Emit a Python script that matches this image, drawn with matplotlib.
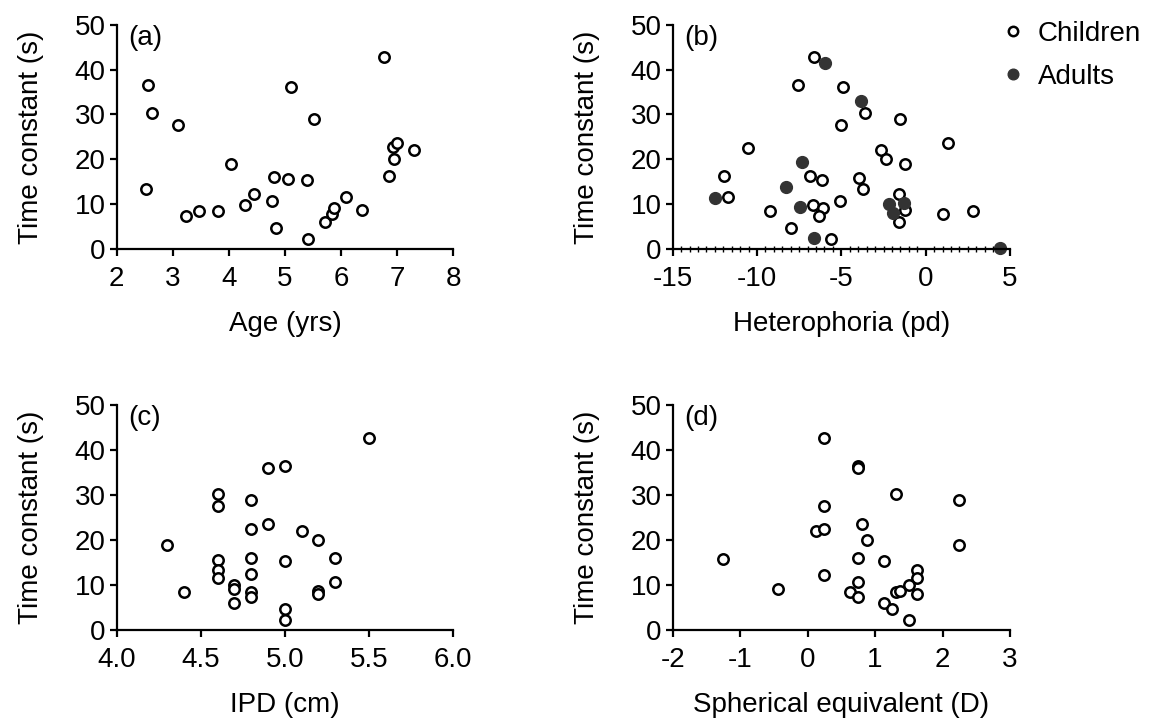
import numpy as np
import matplotlib
matplotlib.use('Agg')
import matplotlib.pyplot as plt
from matplotlib.ticker import MultipleLocator

plt.rcParams['font.family'] = ['Liberation Sans', 'DejaVu Sans']
plt.rcParams['axes.unicode_minus'] = False

# (a) age vs time constant
age = [2.55, 2.63, 2.53, 3.10, 3.23, 3.46, 3.80, 4.04, 4.29, 4.45, 4.77, 4.80, 4.84, 5.05, 5.10,
       5.39, 5.41, 5.52, 5.72, 5.83, 5.87, 6.09, 6.38, 6.77, 6.86, 6.92, 6.99, 6.94, 7.30]
tc_age = [36.5, 30.3, 13.3, 27.6, 7.4, 8.4, 8.4, 18.9, 9.9, 12.3, 10.6, 16.1, 4.6, 15.7, 36.2,
          15.3, 2.2, 28.9, 6.0, 7.9, 9.2, 11.7, 8.7, 42.7, 16.2, 22.7, 23.6, 20.1, 22.1]

# (b) heterophoria, children and adults
het_child = [-6.64, -7.59, -4.92, -3.61, -5.00, -1.51, -10.56, -2.66, -2.35, -1.22, 1.34, -11.97,
             -11.73, -6.86, -6.13, -3.97, -3.69, -1.59, -9.26, -6.68, -6.07, -6.35, -5.10, -1.20,
             -1.59, 1.00, 2.78, -7.97, -5.63]
tc_het_child = [42.7, 36.5, 36.2, 30.3, 27.6, 29.0, 22.6, 22.0, 20.1, 18.9, 23.6, 16.2,
                11.6, 16.2, 15.3, 15.8, 13.3, 12.3, 8.4, 9.9, 9.1, 7.4, 10.6, 8.7,
                6.1, 7.9, 8.4, 4.6, 2.2]
het_adult = [-5.97, -3.85, -7.32, -8.31, -12.47, -7.48, -6.60, -2.19, -1.30, -1.91, 4.41]
tc_het_adult = [41.5, 33.1, 19.5, 13.8, 11.4, 9.4, 2.4, 10.0, 10.3, 8.1, 0.2]

# (c) IPD
ipd = [4.30, 4.40, 4.60, 4.60, 4.60, 4.60, 4.60, 4.70, 4.70, 4.70, 4.80, 4.80, 4.80, 4.80, 4.80,
       4.80, 4.90, 4.90, 5.00, 5.00, 5.00, 5.00, 5.10, 5.20, 5.20, 5.20, 5.30, 5.30, 5.50]
tc_ipd = [18.8, 8.4, 30.2, 27.6, 15.6, 13.3, 11.6, 10.0, 9.2, 6.1, 28.9, 22.5, 16.1, 12.4, 8.4,
          7.3, 36.1, 23.5, 36.4, 15.3, 4.7, 2.2, 21.9, 20.1, 8.7, 7.9, 16.1, 10.7, 42.7]

# (d) spherical equivalent
se = [-1.25, -0.44, 0.24, 0.75, 0.75, 1.31, 2.25, 0.24, 0.12, 0.24, 0.81, 0.88, 2.25, 0.75,
      1.13, 0.24, 1.62, 1.62, 0.75, 1.50, 0.63, 1.31, 1.37, 1.62, 0.75, 1.13, 1.25, 1.50]
tc_se = [15.7, 9.1, 42.6, 36.4, 36.1, 30.2, 28.9, 27.6, 21.9, 22.5, 23.5, 20.1, 18.8, 16.1,
         15.3, 12.3, 13.3, 11.6, 10.7, 9.9, 8.4, 8.4, 8.7, 7.9, 7.4, 6.1, 4.7, 2.2]

W, H = 1158, 721
fig = plt.figure(figsize=(W / 100, H / 100), dpi=100)

def box(l, r, t, b):
    return [l / W, 1 - b / H, (r - l) / W, (b - t) / H]

fs = 20
ms = 7.5
dark = '#333333'

def style(ax, xlim, xticks, xlabel, tag, fmt=None):
    ax.set_xlim(*xlim)
    ax.set_ylim(0, 50)
    ax.set_xticks(xticks)
    if fmt:
        ax.set_xticklabels([fmt % v for v in xticks])
    ax.set_yticks([0, 10, 20, 30, 40, 50])
    for s in ['top', 'right']:
        ax.spines[s].set_visible(False)
    for s in ['left', 'bottom']:
        ax.spines[s].set_linewidth(1.6)
    ax.tick_params(width=1.6, length=5, labelsize=fs, pad=3)
    ax.tick_params(axis='x', pad=7)
    ax.set_ylabel('Time constant (s)', fontsize=fs, labelpad=22)
    ax.set_xlabel(xlabel, fontsize=fs, labelpad=14)
    ax.text(0.033, 1.0, tag, transform=ax.transAxes, fontsize=fs, va='top', ha='left')

open_kw = dict(marker='o', ls='none', ms=ms, mfc='white', mec='black', mew=1.8, clip_on=False)

ax1 = fig.add_axes(box(116.7, 453.3, 24.7, 249))
ax1.plot(age, tc_age, **open_kw)
style(ax1, (2, 8), [2, 3, 4, 5, 6, 7, 8], 'Age (yrs)', '(a)')

ax2 = fig.add_axes(box(672.7, 1010, 24.7, 249))
ax2.plot(het_child, tc_het_child, label='Children', **open_kw)
ax2.plot(het_adult, tc_het_adult, marker='o', ls='none', ms=ms + 1, mfc=dark, mec=dark,
         label='Adults', clip_on=False)
style(ax2, (-15, 5), [-15, -10, -5, 0, 5], 'Heterophoria (pd)', '(b)')
ax2.xaxis.set_minor_locator(MultipleLocator(0.5))
ax2.tick_params(axis='x', which='minor', direction='inout', length=5, width=1)
fig.legend(loc='upper left', bbox_to_anchor=(988 / W, 1 - 10 / H), frameon=False, fontsize=fs,
           handletextpad=0.4, labelspacing=0.6, markerscale=0.9, handlelength=1.0,
           borderaxespad=0)

ax3 = fig.add_axes(box(116.7, 452.7, 405, 630))
ax3.plot(ipd, tc_ipd, **open_kw)
style(ax3, (4, 6), [4.0, 4.5, 5.0, 5.5, 6.0], 'IPD (cm)', '(c)', fmt='%.1f')

ax4 = fig.add_axes(box(672.7, 1010, 405, 630))
ax4.plot(se, tc_se, **open_kw)
style(ax4, (-2, 3), [-2, -1, 0, 1, 2, 3], 'Spherical equivalent (D)', '(d)')

fig.savefig('out.png', dpi=100)
